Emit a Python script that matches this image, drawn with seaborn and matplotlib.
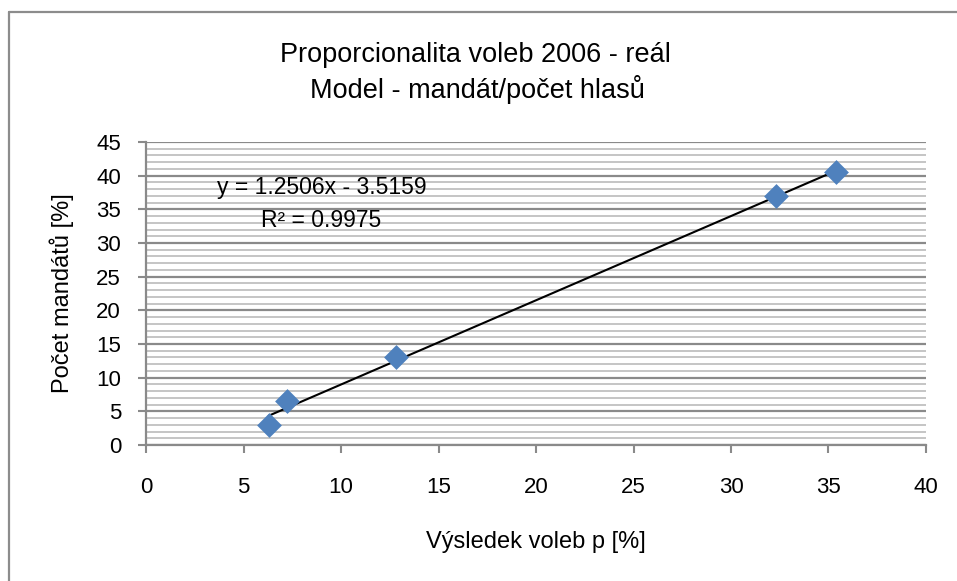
import numpy as np
import pandas as pd
import matplotlib
matplotlib.use("Agg")
import matplotlib.pyplot as plt
from matplotlib.lines import Line2D
import seaborn as sns

# Datos: resultado de las elecciones 2006 vs. mandatos
vysledek = [6.29, 7.22, 12.81, 32.32, 35.38]
mandaty = [3.0, 6.5, 13.0, 37.0, 40.5]
slope, intercept = 1.2506, -3.5159
rovnice = "y = 1.2506x - 3.5159"
r2_text = "R² = 0.9975"

sns.set_theme(style="white")
plt.rcParams['font.family'] = ['Liberation Sans', 'DejaVu Sans']
plt.rcParams['text.color'] = 'black'
plt.rcParams['axes.labelcolor'] = 'black'
plt.rcParams['xtick.color'] = 'black'
plt.rcParams['ytick.color'] = 'black'

df = pd.DataFrame({'x': vysledek, 'y': mandaty})

fig = plt.figure(figsize=(9.57, 5.81), dpi=100)
ax = fig.add_axes([0.1526, 0.234, 0.815, 0.5216])

# marco exterior (solo se ve arriba y a la izquierda)
fx, fy = 9 / 957, 1 - 12 / 581
fig.add_artist(Line2D([fx, fx], [0, fy], transform=fig.transFigure, color='#8c8c8c', linewidth=1.6))
fig.add_artist(Line2D([fx, 1], [fy, fy], transform=fig.transFigure, color='#8c8c8c', linewidth=1.6))

ax.set_xlim(0, 40)
ax.set_ylim(0, 45)
ax.set_yticks(np.arange(0, 46, 5))
ax.set_yticks(np.arange(0, 46, 1), minor=True)
ax.set_xticks(np.arange(0, 41, 5))
ax.grid(axis='y', which='minor', color='#c0c0c0', linewidth=1.3)
ax.grid(axis='y', which='major', color='#8a8a8a', linewidth=1.6)
ax.grid(axis='x', visible=False)
ax.set_axisbelow(True)

for s in ['top', 'right']:
    ax.spines[s].set_visible(False)
for s in ['left', 'bottom']:
    ax.spines[s].set_color('#8a8a8a')
    ax.spines[s].set_linewidth(1.6)

ax.tick_params(axis='both', which='major', direction='out', length=6, width=1.5, color='#8a8a8a',
               labelsize=16)
ax.tick_params(axis='y', which='minor', left=False)
ax.tick_params(axis='x', which='major', bottom=True, pad=17)
ax.tick_params(axis='y', which='major', left=True, pad=12)

# linea de tendencia
xl = np.array([min(vysledek), max(vysledek)])
ax.plot(xl, slope * xl + intercept, color='black', linewidth=1.5, zorder=3)

sns.scatterplot(data=df, x='x', y='y', marker='D', s=160, color='#4f81bd', edgecolor='#4f81bd',
                linewidth=0, ax=ax, zorder=4, clip_on=False)

ax.text(9.0, 38.3, rovnice, ha='center', va='center', fontsize=16.5)
ax.text(9.0, 33.4, r2_text, ha='center', va='center', fontsize=16.5)

ax.set_xlabel("Výsledek voleb p [%]", fontsize=17, labelpad=24)
ax.set_ylabel("Počet mandátů [%]", fontsize=17, labelpad=16)

fig.text(0.497, 1 - 62 / 581, "Proporcionalita voleb 2006 - reál", ha='center', va='baseline', fontsize=19.5)
fig.text(0.499, 1 - 98 / 581, "Model - mandát/počet hlasů", ha='center', va='baseline', fontsize=19.5)

fig.savefig("out.png", dpi=100)
